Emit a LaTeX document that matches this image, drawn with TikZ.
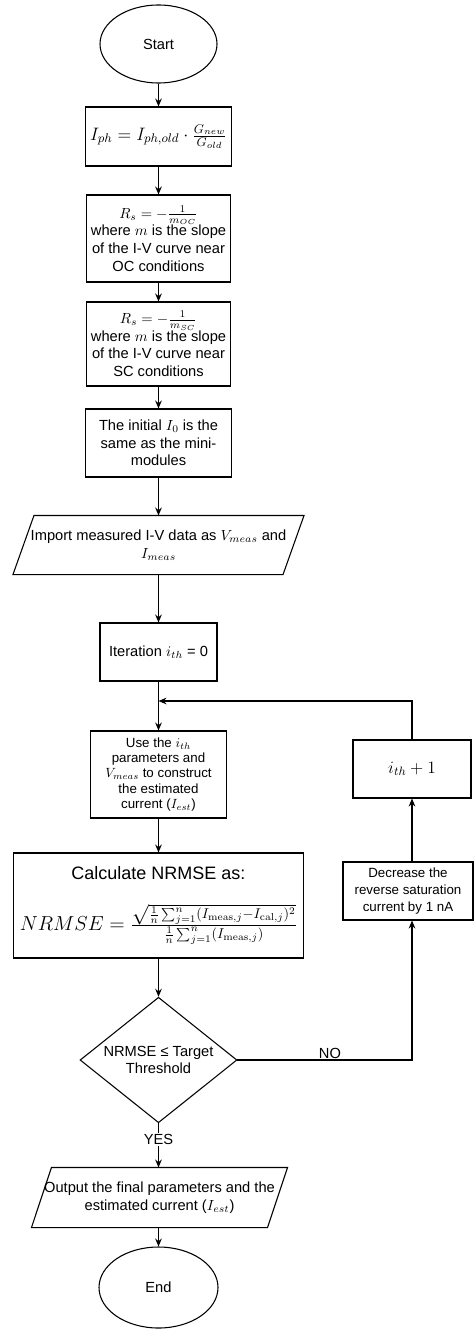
\RequirePackage{fix-cm}
\documentclass[tikz,border=0pt]{standalone}
\usepackage[no-math]{fontspec}
\setmainfont{Liberation Sans}
\usetikzlibrary{shapes.geometric,arrows.meta,calc}
\tikzset{
  base/.style={draw=black, line width=0.8pt, align=center, inner sep=2pt, font=\fontsize{11}{13.2}\selectfont},
  proc/.style={base, rectangle},
  term/.style={base, ellipse},
  cond/.style={base, diamond, aspect=1.25},
  io/.style={base, draw=none, rectangle},
  lbl/.style={font=\fontsize{11}{13.2}\selectfont, inner sep=1pt},
  flow/.style={black, line width=0.8pt, -{Stealth[length=6pt,width=5pt,inset=2pt]}},
}

\begin{document}
\begin{tikzpicture}[x=0.75pt,y=-0.75pt]
\useasboundingbox (0,0) rectangle (474,1330);
\node[term, minimum width=87.75pt, minimum height=58.5pt] (start) at (158.5,44) {Start};
\node[proc, minimum width=109.5pt, minimum height=44.25pt, font=\fontsize{13.5}{15}\selectfont] (iph) at (158.5,136.5) {$I_{ph}=I_{ph,old}\cdot\frac{G_{new}}{G_{old}}$};
\node[proc, minimum width=108pt, minimum height=65.25pt] (rsoc) at (158.5,238.5) {$R_s=-\frac{1}{m_{OC}}$\\ where $m$ is the slope\\ of the I-V curve near\\ OC conditions};
\node[proc, minimum width=108pt, minimum height=63pt] (rssc) at (158.5,344) {$R_s=-\frac{1}{m_{SC}}$\\ where $m$ is the slope\\ of the I-V curve near\\ SC conditions};
\node[proc, minimum width=109.5pt, minimum height=51pt] (init) at (158.5,443) {The initial $I_0$ is the\\ same as the mini-\\ modules};
\node[io, minimum width=217.5pt, minimum height=43.5pt] (imp) at (158.5,545) {Import measured I-V data as $V_{meas}$ and\\ $I_{meas}$};
\draw[line width=0.8pt] ($(imp.north west)+(21,0)$) -- (imp.north east) -- ($(imp.south east)-(21,0)$) -- (imp.south west) -- cycle;
\node[proc, minimum width=87.75pt, minimum height=43.5pt] (iter) at (158.5,652) {Iteration $i_{th}$ = 0};
\coordinate (join) at (158.5,701);
\node[proc, minimum width=102pt, minimum height=65.25pt, font=\fontsize{10}{11.6}\selectfont] (use) at (158.5,774.5) {Use the $i_{th}$\\ parameters and\\ $V_{meas}$ to construct\\ the estimated\\ current ($I_{est}$)};
\node[proc, minimum width=217.5pt, minimum height=78.75pt] (nrmse) at (158.5,905.5) {{\fontsize{13.5}{17}\selectfont Calculate NRMSE as:}\\[17pt] {\fontsize{15.2}{18}\selectfont $NRMSE=\frac{\sqrt{\frac{1}{n}\sum_{j=1}^{n}(I_{\mathrm{meas},j}-I_{\mathrm{cal},j})^2}}{\frac{1}{n}\sum_{j=1}^{n}(I_{\mathrm{meas},j})}$}};
\node[cond, minimum width=112.5pt, minimum height=90pt] (crit) at (158.5,1060) {NRMSE ≤ Target\\ Threshold};
\node[io, minimum width=191.25pt, minimum height=44.25pt] (out) at (159.5,1197.5) {Output the final parameters and the\\ estimated current ($I_{est}$)};
\draw[line width=0.8pt] ($(out.north west)+(20,0)$) -- (out.north east) -- ($(out.south east)-(20,0)$) -- (out.south west) -- cycle;
\node[term, minimum width=89.25pt, minimum height=60.75pt] (stop) at (158.5,1287.5) {End};
\node[proc, minimum width=88.5pt, minimum height=43.5pt, font=\fontsize{13}{15}\selectfont] (inc) at (412,769) {$i_{th}+1$};
\node[proc, minimum width=97.5pt, minimum height=43.5pt, font=\fontsize{10}{13}\selectfont] (dec) at (408,891) {Decrease the\\ reverse saturation\\ current by 1 nA};
\draw[flow] (start) -- (iph);
\draw[flow] (iph) -- (rsoc);
\draw[flow] (rsoc) -- (rssc);
\draw[flow] (rssc) -- (init);
\draw[flow] (init) -- (imp);
\draw[flow] (imp) -- (iter);
\draw[flow] (iter) -- (use);
\draw[flow] (use) -- (nrmse);
\draw[flow] (nrmse) -- (crit);
\draw[flow] (crit) -- node[lbl, fill=white, pos=0.375]{YES} (out.north -| crit);
\draw[flow] (out.south -| stop) -- (stop);
\draw[flow] (crit.east) -| node[lbl, pos=0.265, above]{NO} (inc |- dec.south);
\draw[flow] (inc |- dec.north) -- (inc);
\draw[flow] (inc.north) |- (join);
\end{tikzpicture}
\end{document}
